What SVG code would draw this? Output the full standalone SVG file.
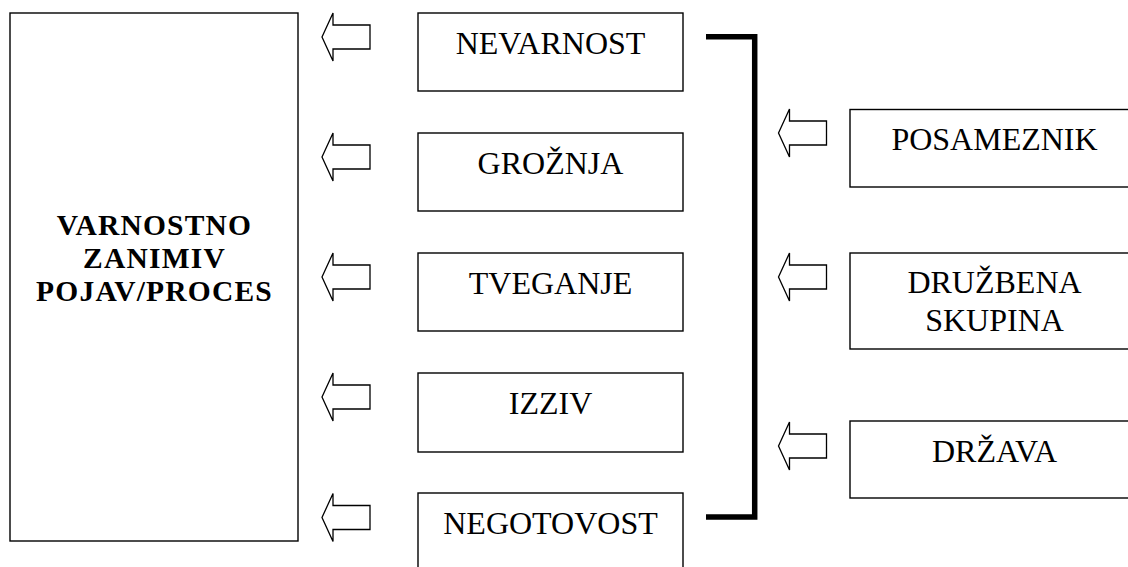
<svg xmlns="http://www.w3.org/2000/svg" width="1128" height="567" viewBox="0 0 1128 567">
<style>
.box{fill:#fff;stroke:#000;stroke-width:1.4}
.arrow{fill:#fff;stroke:#000;stroke-width:1.3;stroke-linejoin:miter}
.t{font-family:"Liberation Serif","Times New Roman",serif;font-size:32px;fill:#000;text-anchor:middle}
.b{font-weight:bold;font-size:29.5px;letter-spacing:1.2px}
.bracket{fill:none;stroke:#000;stroke-width:5.5;stroke-linejoin:miter}
</style>
<defs>
<polygon id="arr" class="arrow" points="0,24 11,0 11,12 48,12 48,36 11,36 11,48"/>
</defs>
<rect width="1128" height="567" fill="#fff"/>
<g id="pojav">
<rect class="box" x="10" y="13" width="288" height="528"/>
<text class="t b" x="154.5" y="235">VARNOSTNO</text>
<text class="t b" x="154.5" y="268">ZANIMIV</text>
<text class="t b" x="154.5" y="301">POJAV/PROCES</text>
</g>
<g id="nevarnost">
<rect class="box" x="418" y="13" width="265" height="78"/>
<text class="t" x="550.5" y="54">NEVARNOST</text>
</g>
<g id="groznja">
<rect class="box" x="418" y="133" width="265" height="78"/>
<text class="t" x="550.5" y="174">GROŽNJA</text>
</g>
<g id="tveganje">
<rect class="box" x="418" y="253" width="265" height="78"/>
<text class="t" x="550.5" y="294">TVEGANJE</text>
</g>
<g id="izziv">
<rect class="box" x="418" y="373" width="265" height="79"/>
<text class="t" x="550.5" y="414">IZZIV</text>
</g>
<g id="negotovost">
<rect class="box" x="418" y="493" width="265" height="90"/>
<text class="t" x="550.5" y="534">NEGOTOVOST</text>
</g>
<g id="posameznik">
<rect class="box" x="850" y="109.5" width="300" height="77.5"/>
<text class="t" x="994.5" y="150">POSAMEZNIK</text>
</g>
<g id="druzbena-skupina">
<rect class="box" x="850" y="253" width="300" height="96"/>
<text class="t" x="994.5" y="293">DRUŽBENA</text>
<text class="t" x="994.5" y="330.5">SKUPINA</text>
</g>
<g id="drzava">
<rect class="box" x="850" y="421" width="300" height="77"/>
<text class="t" x="994.5" y="462">DRŽAVA</text>
</g>
<g id="connectors">
<path class="bracket" d="M706,36.7 H754.7 V517 H706"/>
<use href="#arr" x="322" y="13"/>
<use href="#arr" x="322" y="133"/>
<use href="#arr" x="322" y="253"/>
<use href="#arr" x="322" y="373"/>
<use href="#arr" x="322" y="493.5"/>
<use href="#arr" x="778.5" y="109"/>
<use href="#arr" x="778.5" y="253"/>
<use href="#arr" x="778.5" y="422"/>
</g>
</svg>
